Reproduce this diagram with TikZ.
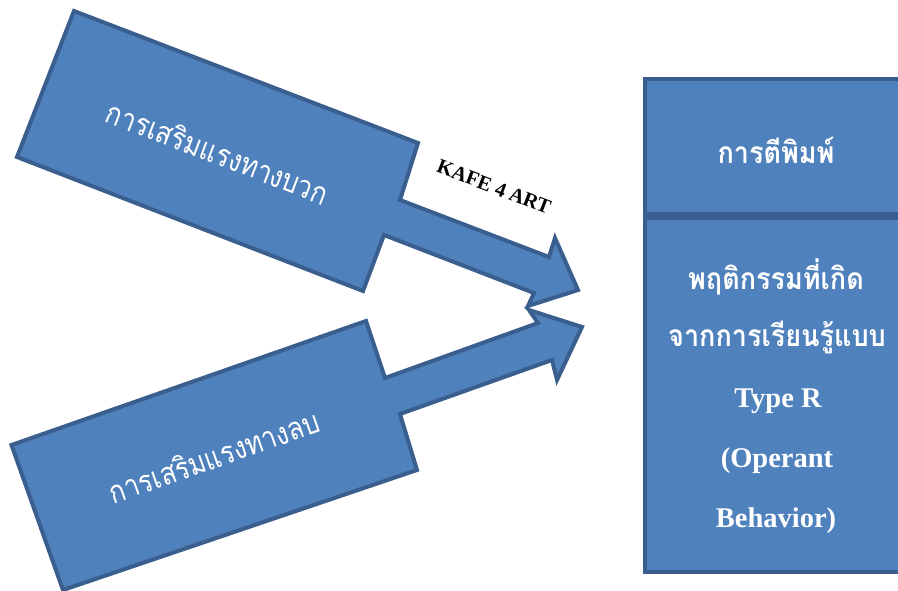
\documentclass[tikz,border=0pt]{standalone}
\usepackage{fontspec}
\setmainfont{Liberation Serif}
\newfontfamily\thainarrow[Script=Thai, FakeStretch=0.84]{Loma}
\newfontfamily\thaiboxfont[Script=Thai, FakeStretch=0.9]{Loma}
\definecolor{boxfill}{HTML}{4F81BD}
\definecolor{boxline}{HTML}{3A5F8E}
\tikzset{
  shapebox/.style={fill=boxfill, draw=boxline, line width=4pt, line join=miter},
  arrowtext/.style={text=white, font=\thainarrow\fontsize{31}{34}\selectfont, inner sep=0pt},
  rtext/.style={text=white, font=\thaiboxfont\bfseries\fontsize{30}{34}\selectfont, inner sep=0pt},
  ltext/.style={text=white, font=\bfseries\fontsize{28.5}{30}\selectfont, inner sep=0pt},
  kafe/.style={text=black, font=\bfseries\fontsize{20.5}{24}\selectfont, inner sep=0pt},
}
\begin{document}
\begin{tikzpicture}[x=1pt,y=-1pt]
\useasboundingbox (0,0) rectangle (898,591);
% lower arrow
\draw[shapebox] (11.5,445) -- (366,321) -- (385,378) -- (538,323) -- (529,310)
  -- (582,327) -- (557,380) -- (552,360) -- (400,414) -- (417,470) -- (63,590) -- cycle;
% upper arrow
\draw[shapebox] (74,11) -- (418,143) -- (400,200) -- (549,257) -- (555,238)
  -- (578,290) -- (528,306) -- (534,293) -- (384,235) -- (363,291) -- (17,157) -- cycle;
\node[arrowtext, rotate=-21] (pos) at (218,152) {การเสริมแรงทางบวก};
\node[arrowtext, rotate=19.3] (neg) at (214,456) {การเสริมแรงทางลบ};
\node[kafe, rotate=-21] (kafe4art) at (494,187) {KAFE 4 ART};
% right boxes
\draw[shapebox] (645,79.5) rectangle (905,214);
\draw[shapebox] (645,218) rectangle (905,571.5);
\node[rtext] (imprint) at (776,150) {การตีพิมพ์};
\node[rtext] (l1) at (776,277) {พฤติกรรมที่เกิด};
\node[rtext] (l2) at (777,337) {จากการเรียนรู้แบบ};
\node[ltext] (l3) at (778,401) {Type R};
\node[ltext] (l4) at (777,461) {(Operant};
\node[ltext] (l5) at (776,521) {Behavior)};
\end{tikzpicture}
\end{document}
